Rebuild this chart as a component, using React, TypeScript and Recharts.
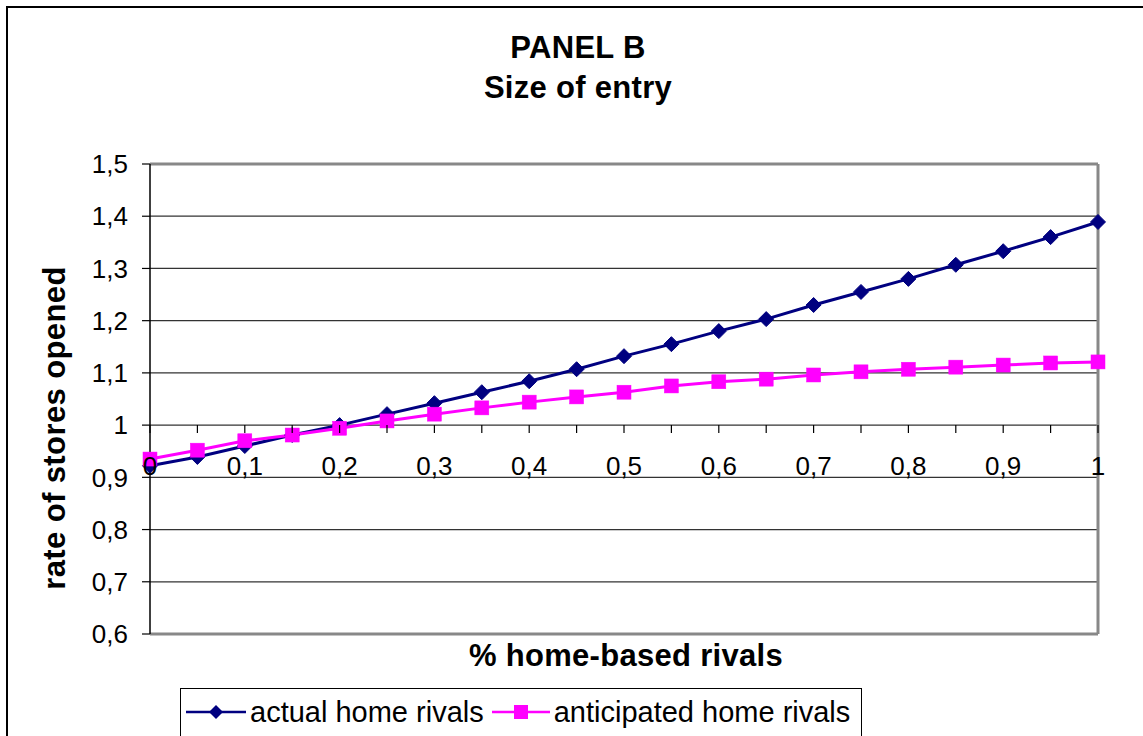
import React from "react";
import { LineChart, Line, XAxis, YAxis, CartesianGrid, ReferenceLine } from "recharts";

const xValues = [0, 0.05, 0.1, 0.15, 0.2, 0.25, 0.3, 0.35, 0.4, 0.45, 0.5, 0.55, 0.6, 0.65, 0.7, 0.75, 0.8, 0.85, 0.9, 0.95, 1];
const actualHome = [0.922, 0.939, 0.96, 0.981, 1.0, 1.021, 1.042, 1.063, 1.084, 1.107, 1.132, 1.155, 1.18, 1.203, 1.23, 1.255, 1.28, 1.307, 1.333, 1.36, 1.389];
const anticipatedHome = [0.935, 0.952, 0.97, 0.981, 0.994, 1.008, 1.021, 1.033, 1.044, 1.054, 1.063, 1.075, 1.083, 1.088, 1.096, 1.102, 1.107, 1.111, 1.115, 1.119, 1.121];
const yTicks = [0.6, 0.7, 0.8, 0.9, 1.0, 1.1, 1.2, 1.3, 1.4, 1.5];
const xLabelTicks = [0, 0.1, 0.2, 0.3, 0.4, 0.5, 0.6, 0.7, 0.8, 0.9, 1];

const data = xValues.map((x, i) => ({ x, actual: actualHome[i], anticipated: anticipatedHome[i] }));

const W = 1143;
const H = 736;
const X_AXIS_H = 1;
const M = { top: 164, right: 45, bottom: 102 - X_AXIS_H, left: 70 };
const Y_AXIS_W = 80;
const Y_MIN = 0.6;
const Y_MAX = 1.5;
const PLOT_H = H - M.top - M.bottom - X_AXIS_H;
const yAt = (v: number) => M.top + ((Y_MAX - v) / (Y_MAX - Y_MIN)) * PLOT_H;

const FONT = "'Liberation Sans', Arial, sans-serif";
const NAVY = "#000080";
const MAGENTA = "#FF00FF";

const fmt = (v: number) => String(Math.round(v * 100) / 100).replace(".", ",");

const XTick = (props: any) => {
  const { x, payload } = props;
  const v = payload.value as number;
  const isLabel = xLabelTicks.some((t) => Math.abs(t - v) < 1e-9);
  const yTickTop = yAt(1.0);
  return (
    <g>
      <line x1={x} x2={x} y1={yTickTop} y2={yTickTop + 8} stroke="#000" strokeWidth={1.2} />
      {isLabel && (
        <text x={x} y={yAt(0.9) - 2} textAnchor="middle" fontSize={26} fontFamily={FONT} fill="#000">
          {fmt(v)}
        </text>
      )}
    </g>
  );
};

const Diamond = (props: any) => {
  const { cx, cy } = props;
  if (cx == null || cy == null) return null;
  const r = 7.5;
  return <path d={`M${cx},${cy - r} L${cx + r},${cy} L${cx},${cy + r} L${cx - r},${cy} Z`} fill={NAVY} stroke={NAVY} strokeWidth={1} />;
};

const Square = (props: any) => {
  const { cx, cy } = props;
  if (cx == null || cy == null) return null;
  const s = 7;
  return <rect x={cx - s} y={cy - s} width={2 * s} height={2 * s} fill={MAGENTA} stroke={MAGENTA} strokeWidth={0.5} />;
};

const LegendBox = () => (
  <div
    style={{
      position: "absolute",
      left: 180,
      top: 688,
      border: "1.5px solid #000",
      width: 682,
      height: 52,
      boxSizing: "border-box",
      display: "flex",
      alignItems: "center",
      paddingLeft: 5,
      fontFamily: FONT,
      fontSize: 29,
      color: "#000",
      background: "#fff",
      whiteSpace: "nowrap",
      paddingBottom: 4,
    }}
  >
    <svg width={60} height={20} style={{ marginRight: 4 }}>
      <line x1={0} x2={60} y1={10} y2={10} stroke={NAVY} strokeWidth={2.5} />
      <path d="M30,3 L37,10 L30,17 L23,10 Z" fill={NAVY} />
    </svg>
    <span style={{ marginRight: 8 }}>actual home rivals</span>
    <svg width={58} height={20} style={{ marginRight: 4 }}>
      <line x1={0} x2={58} y1={10} y2={10} stroke={MAGENTA} strokeWidth={2.5} />
      <rect x={22} y={3} width={14} height={14} fill={MAGENTA} />
    </svg>
    <span>anticipated home rivals</span>
  </div>
);

export default function App() {
  return (
    <div style={{ position: "fixed", left: 0, top: 0, width: W, height: H, overflow: "hidden", background: "#fff" }}>
      <div style={{ position: "absolute", left: 6, top: 6, width: 1300, height: 900, border: "2px solid #000", boxSizing: "border-box" }} />
      <div
        style={{
          position: "absolute",
          left: 0,
          width: 1156,
          top: 28,
          textAlign: "center",
          fontFamily: FONT,
          fontWeight: "bold",
          fontSize: 31,
          letterSpacing: 0.3,
          lineHeight: "40px",
          color: "#000",
        }}
      >
        <div>PANEL B</div>
        <div>Size of entry</div>
      </div>
      <div
        style={{
          position: "absolute",
          left: 55,
          top: 428,
          transform: "translate(-50%, -50%) rotate(-90deg)",
          fontFamily: FONT,
          fontWeight: "bold",
          fontSize: 31,
          letterSpacing: 0.4,
          whiteSpace: "nowrap",
          color: "#000",
        }}
      >
        rate of stores opened
      </div>
      <div
        style={{
          position: "absolute",
          left: 626,
          top: 656,
          transform: "translate(-50%, -50%)",
          fontFamily: FONT,
          fontWeight: "bold",
          fontSize: 31,
          letterSpacing: 0.3,
          whiteSpace: "nowrap",
          color: "#000",
        }}
      >
        % home-based rivals
      </div>
      <div style={{ position: "absolute", left: 0, top: 0 }}>
        <LineChart width={W} height={H} data={data} margin={M}>
          <CartesianGrid horizontal={true} vertical={false} stroke="#333" strokeWidth={1.2} />
          <XAxis
            dataKey="x"
            type="number"
            domain={[0, 1]}
            ticks={xValues}
            interval={0}
            height={X_AXIS_H}
            axisLine={false}
            tickLine={false}
            tick={<XTick />}
          />
          <YAxis
            type="number"
            domain={[Y_MIN, Y_MAX]}
            ticks={yTicks}
            interval={0}
            width={Y_AXIS_W}
            tickFormatter={fmt}
            tickSize={8}
            tickMargin={14}
            axisLine={{ stroke: "#000", strokeWidth: 1.5 }}
            tickLine={{ stroke: "#000", strokeWidth: 1.2 }}
            tick={{ fill: "#000", fontSize: 26, fontFamily: FONT }}
          />
          <ReferenceLine y={Y_MAX} stroke="#888" strokeWidth={3} />
          <ReferenceLine y={Y_MIN} stroke="#888" strokeWidth={3} />
          <ReferenceLine x={1} stroke="#888" strokeWidth={3} />
          <Line
            type="linear"
            dataKey="actual"
            name="actual home rivals"
            stroke={NAVY}
            strokeWidth={3}
            dot={<Diamond />}
            activeDot={false}
            isAnimationActive={false}
          />
          <Line
            type="linear"
            dataKey="anticipated"
            name="anticipated home rivals"
            stroke={MAGENTA}
            strokeWidth={3}
            dot={<Square />}
            activeDot={false}
            isAnimationActive={false}
          />
        </LineChart>
      </div>
      <LegendBox />
    </div>
  );
}
